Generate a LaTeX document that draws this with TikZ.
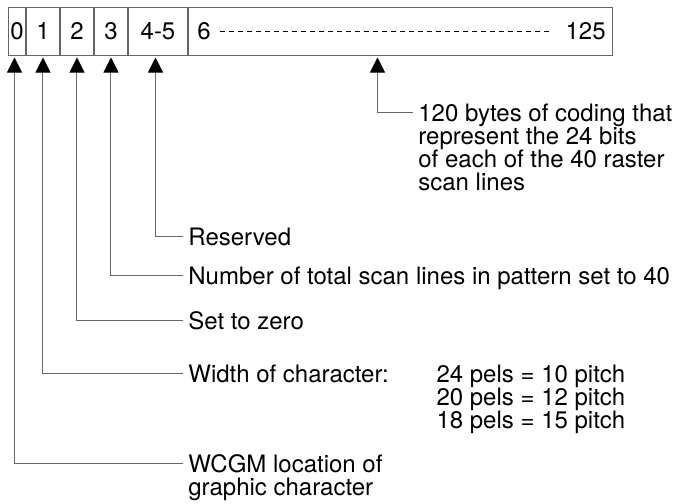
\documentclass[tikz,border=0pt]{standalone}
\usepackage{fontspec}
\setmainfont{TeX Gyre Heros}
\usepackage{tikz}
\usetikzlibrary{arrows.meta}
\usetikzlibrary{positioning}

\begin{document}
\begin{tikzpicture}[
  x=0.5pt, y=-0.5pt,
  every node/.style={font=\fontsize{12}{11.6}\selectfont, text=black},
  byteCell/.style={draw=black!60, line width=0.5pt, rectangle, inner sep=0pt,
    minimum height=24pt, anchor=west},
  fieldLabel/.style={anchor=north west, inner xsep=2.5pt, inner ysep=0pt, align=left},
  fieldPointer/.style={draw=black!60, line width=0.5pt, shorten >=1pt,
    -{Triangle[length=7.5pt,width=7.5pt,fill=black,color=black]}},
]
\useasboundingbox (0,0) rectangle (677,504);

% --- Begin byte cells ---
\node [byteCell, minimum width=8.5pt] (cell0) at (8,31) {0};
\node [byteCell, minimum width=16.5pt, right=0pt of cell0] (cell1) {1};
\node [byteCell, minimum width=16.5pt, right=0pt of cell1] (cell2) {2};
\node [byteCell, minimum width=16.5pt, right=0pt of cell2] (cell3) {3};
\node [byteCell, minimum width=29.5pt, right=0pt of cell3] (cell45) {4-5};
\node [byteCell, minimum width=212pt, right=0pt of cell45] (cellRaster) {};

\node [anchor=west, inner sep=0pt] (rasterFirst) at ([xshift=4.5pt]cellRaster.west) {6};
\node [anchor=east, inner sep=0pt] (rasterLast) at ([xshift=-3.5pt]cellRaster.east) {125};
\draw[line width=0.5pt, dash pattern=on 2.5pt off 2pt, shorten <=4.5pt, shorten >=6.5pt]
  (rasterFirst) -- (rasterLast);

% --- Begin field labels ---
\node [fieldLabel] (rasterNote) at (413,103.4)
  {120 bytes of coding that\\represent the 24 bits\\of each of the 40 raster\\scan lines};
\node [fieldLabel] (reservedNote) at (183,227.4) {Reserved};
\node [fieldLabel] (countNote) at (183,266.4) {Number of total scan lines in pattern set to 40};
\node [fieldLabel] (zeroNote) at (183,311.4) {Set to zero};
\node [fieldLabel] (widthNote) at (183,364.4) {Width of character:};
\node [fieldLabel, right=18.5pt of widthNote.north east, anchor=north west] (pelsNote)
  {24 pels = 10 pitch\\20 pels = 12 pitch\\18 pels = 15 pitch};
\node [fieldLabel] (wcgmNote) at (183,454.4) {WCGM location of\\graphic character};

% --- Begin pointers ---
\draw[fieldPointer] ([yshift=-4.3pt]rasterNote.north west) -| ([xshift=-11.5pt]cellRaster.south);
\draw[fieldPointer] ([yshift=-4.3pt]reservedNote.north west) -| ([xshift=-1.25pt]cell45.south);
\draw[fieldPointer] ([yshift=-4.3pt]countNote.north west) -| (cell3.south);
\draw[fieldPointer] ([yshift=-4.3pt]zeroNote.north west) -| (cell2.south);
\draw[fieldPointer] ([yshift=-4.3pt]widthNote.north west) -| (cell1.south);
\draw[fieldPointer] ([yshift=-4.3pt]wcgmNote.north west) -| ([xshift=-1.25pt]cell0.south);

\end{tikzpicture}
\end{document}
